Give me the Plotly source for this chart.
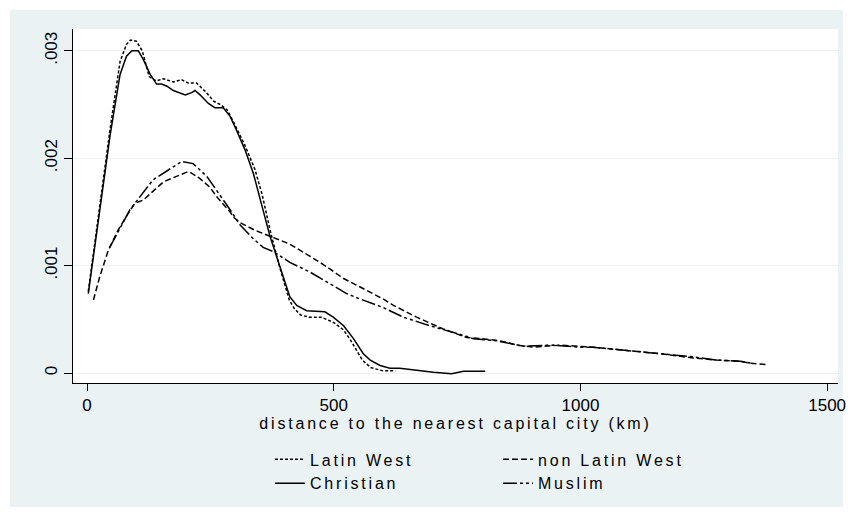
import plotly.graph_objects as go

# ---- data (kernel densities, distance in km) ----
latin_x = [2.6, 26, 47, 67, 80, 88, 100, 112, 126, 140, 155, 175, 192, 205, 222, 240, 257, 270, 284,
           300, 320, 340, 355, 372, 392, 410, 420, 433, 450, 475, 500, 520, 535, 558, 575, 600, 625]
latin_y = [.00076, .00157, .00228, .00290, .00306, .00310, .00309, .00300, .00276, .00272, .00274, .00271,
           .00273, .00270, .00270, .00262, .00253, .00250, .00245, .00231, .00212, .00190, .00166, .00131,
           .00096, .00068, .00060, .00054, .00052, .00052, .00047, .00040, .00030, .00012, .00005, .00002, .00002]

christian_x = [2.6, 26, 47, 67, 80, 91, 104, 114, 128, 141, 151, 162, 175, 199, 212, 219, 229, 246, 259,
               276, 290, 303, 320, 337, 351, 371, 391, 411, 425, 445, 482, 499, 520, 540, 560, 574, 594,
               614, 634, 668, 702, 739, 763, 807]
christian_y = [.00074, .00150, .00222, .00278, .00295, .00300, .00300, .00292, .00278, .00269, .00269,
               .00267, .00263, .00259, .00261, .00263, .00259, .00251, .00247, .00247, .00239, .00226,
               .00208, .00186, .00161, .00127, .00099, .00071, .00063, .00058, .00057, .00052, .00044,
               .00032, .00018, .00012, .00007, .000045, .000045, .000023, .000008, -.000007, .000017, .000017]

nonlatin_x = [13, 26, 43, 63, 84, 97, 114, 155, 202, 209, 229, 249, 263, 290, 297, 310, 340, 371, 411,
              440, 479, 520, 567, 600, 621, 668, 722, 770, 797, 837, 871, 905, 959, 1026, 1094, 1161,
              1229, 1276, 1324, 1344, 1376]
nonlatin_y = [.00068, .00090, .00114, .00133, .00149, .00158, .00161, .00178, .00187, .00187, .00181,
              .00173, .00164, .00150, .00145, .00140, .00133, .00127, .00120, .00112, .00101, .00088,
              .00077, .00069, .00063, .00052, .00041, .00033, .00032, .00030, .00026, .00024, .00026,
              .00024, .00021, .00018, .00014, .00012, .00011, .00009, .00008]

muslim_x = [46, 65, 87, 134, 192, 215, 243, 290, 310, 337, 357, 378, 411, 452, 492, 526, 553, 600, 641,
            695, 763, 783, 830, 884, 945, 999, 1026, 1094, 1161, 1229, 1276, 1324, 1350]
muslim_y = [.00117, .00133, .00152, .00180, .00197, .00195, .00183, .00152, .00138, .00125, .00117,
            .00113, .00103, .00094, .00083, .00074, .00069, .00061, .00052, .00044, .00035, .00032,
            .00030, .00025, .00026, .00024, .00024, .00021, .00018, .00015, .00012, .00011, .00009]

x_ticks = [0, 500, 1000, 1500]
x_tick_text = ["0", "500", "1000", "1500"]
y_ticks = [0, 0.001, 0.002, 0.003]
y_tick_text = ["0", ".001", ".002", ".003"]

FONT = "Liberation Sans, Arial, sans-serif"
PANEL = "#EAF2F3"

fig = go.Figure()
series = [
    ("Latin West", latin_x, latin_y, "3px,2px", "a"),
    ("Christian", christian_x, christian_y, "solid", "a"),
    ("non Latin West", nonlatin_x, nonlatin_y, "6px,3px", "b"),
    ("Muslim", muslim_x, muslim_y, "14px,3px,3px,3px,3px,3px", "b"),
]
for name, xs, ys, dash, grp in series:
    fig.add_trace(go.Scatter(x=xs, y=ys, mode="lines", name=name, legendgroup=grp,
                             line=dict(color="black", width=1.5, dash=dash)))

fig.update_layout(
    width=853, height=517,
    margin=dict(l=73, r=15, t=29, b=134, autoexpand=False),
    paper_bgcolor="white", plot_bgcolor="white",
    font=dict(family=FONT, size=16, color="black"),
    showlegend=True,
    legend=dict(orientation="h", traceorder="grouped", x=0.2575, xanchor="left",
                y=-0.168, yanchor="top", bgcolor="rgba(0,0,0,0)", entrywidth=183,
                font=dict(family=FONT, size=16), tracegroupgap=0, itemclick=False),
    shapes=[
        dict(type="rect", xref="paper", yref="paper", x0=-0.08235, x1=1.00654, y0=-0.35028, y1=1.05367,
             fillcolor=PANEL, line=dict(width=0), layer="below"),
        dict(type="rect", xref="paper", yref="paper", x0=0, x1=1, y0=0, y1=1,
             fillcolor="white", line=dict(width=0), layer="below"),
    ],
    xaxis=dict(range=[-28.4, 1522], tickvals=x_ticks, ticktext=x_tick_text, showgrid=False,
               zeroline=False, showline=True, linecolor="black", linewidth=1, automargin=False,
               ticks="outside", ticklen=7, tickcolor="black", tickwidth=1,
               tickfont=dict(family=FONT, size=17),
               title=dict(text="distance to the nearest capital city (km)", standoff=2,
                          font=dict(family=FONT, size=16))),
    yaxis=dict(range=[-0.000093, 0.003203], tickvals=y_ticks, ticktext=y_tick_text, showgrid=True,
               gridcolor=PANEL, gridwidth=1, zeroline=False, showline=True, linecolor="black",
               linewidth=1, ticks="outside", ticklen=8, tickcolor="black", tickwidth=1,
               automargin=False, tickangle=-90, tickfont=dict(family=FONT, size=17)),
)

post = """
document.body.style.margin = '0';
document.body.style.padding = '0';
var gd = document.getElementById('{plot_id}');
function spaceText(){
  gd.querySelectorAll('.xtitle, .legendtext').forEach(function(t){ t.style.letterSpacing = '2.8px'; });
}
spaceText();
gd.on('plotly_afterplot', spaceText);
"""

fig.write_html("out.html", post_script=post, config={"displayModeBar": False, "staticPlot": True})
